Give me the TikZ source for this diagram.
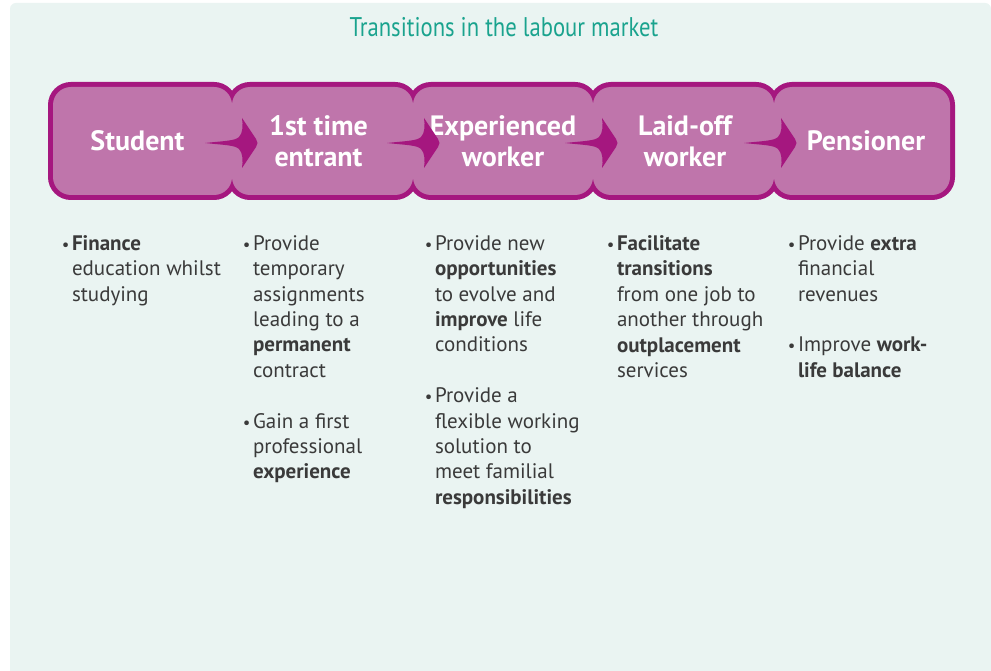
\documentclass[tikz,border=0pt]{standalone}
\usepackage{fontspec}
\setmainfont{PT Sans}
\newfontfamily\titlefont[FakeStretch=0.84]{PT Sans}
\usetikzlibrary{calc}
\definecolor{panelc}{HTML}{EAF4F2}
\definecolor{titlec}{HTML}{1AA38E}
\definecolor{boxc}{HTML}{BF75AB}
\definecolor{edgec}{HTML}{A5177F}
\definecolor{textc}{HTML}{3A3A3A}
\pgfdeclarelayer{back}
\pgfdeclarelayer{edge}
\pgfsetlayers{back,edge,main}
\newcommand{\bul}{\llap{\scalebox{0.8}{\textbullet}\hspace{2.5pt}}}
\tikzset{
  stagebox/.style={fill=boxc, rounded corners=18pt, inner sep=0pt, outer sep=0pt,
    minimum height=108pt},
  stagelabel/.style={text=white, font=\fontsize{28}{31}\selectfont\bfseries,
    align=center, inner sep=0pt},
  stageedge/.style={draw=edgec, line width=10pt, rounded corners=18pt},
  col/.style={anchor=north west, inner sep=0pt, outer sep=0pt, text=textc,
    font=\fontsize{21}{25.4}\selectfont, align=left},
  flow/.pic={
    \fill[edgec] (-53,0) .. controls (-35,-2) and (-23,-2) .. (-19,-6)
      .. controls (-15,-10) and (-15,-18) .. (-16,-25)
      -- (-2,-4) .. controls (0,-1.5) and (0,1.5) .. (-2,4)
      -- (-16,25) .. controls (-15,18) and (-15,10) .. (-19,6)
      .. controls (-23,2) and (-35,2) .. (-53,0) -- cycle;
  }
}
\begin{document}
\begin{tikzpicture}[x=1pt,y=-1pt]
\useasboundingbox (0,0) rectangle (991,671);
\begin{pgfonlayer}{back}
  \fill[white] (0,0) rectangle (991,671);
  \fill[panelc] (10,671) {[rounded corners=6pt] -- (10,3) -- (991,3)} -- (991,671) -- cycle;
\end{pgfonlayer}

\node[text=titlec, font=\titlefont\fontsize{27}{30}\selectfont] (title) at (504,27) {Transitions in the labour market};

\node[stagebox, minimum width=179pt] (b1) at (142.5,141) {};
\node[stagebox, minimum width=181pt] (b2) at (322.5,141) {};
\node[stagebox, minimum width=180pt] (b3) at (503,141) {};
\node[stagebox, minimum width=181pt] (b4) at (683.5,141) {};
\node[stagebox, minimum width=176pt] (b5) at (862,141) {};

\node[stagelabel] (l1) at ($(b1.center)+(-5,0)$) {Student};
\node[stagelabel] (l2) at ($(b2.center)+(-4,0.5)$) {1st time\\entrant};
\node[stagelabel] (l3) at ($(b3.center)+(0,0.5)$) {Experienced\\worker};
\node[stagelabel] (l4) at ($(b4.center)+(1.5,0.5)$) {Laid-off\\worker};
\node[stagelabel] (l5) at ($(b5.center)+(4,0)$) {Pensioner};

\begin{pgfonlayer}{edge}
  \foreach \b in {b1,b2,b3,b4,b5}
    \draw[stageedge] (\b.north west) rectangle (\b.south east);
\end{pgfonlayer}

\pic at ($(b1.east)+(26,2)$) {flow};
\pic at ($(b2.east)+(27,2)$) {flow};
\pic at ($(b3.east)+(25,2)$) {flow};
\pic at ($(b4.east)+(23,2)$) {flow};

\node[col] (c1) at (72,235.5) {\bul\textbf{Finance}\\education whilst\\studying};
\node[col] (c2) at (253,235.5) {\bul Provide\\temporary\\assignments\\leading to a\\\textbf{permanent}\\contract\\[25.4pt]\bul Gain a first\\professional\\\textbf{experience}};
\node[col] (c3) at (435,235.5) {\bul Provide new\\\textbf{opportunities}\\to evolve and\\\textbf{improve} life\\conditions\\[25.4pt]\bul Provide a\\flexible working\\solution to\\meet familial\\\textbf{responsibilities}};
\node[col] (c4) at (617,235.5) {\bul\textbf{Facilitate}\\\textbf{transitions}\\from one job to\\another through\\\textbf{outplacement}\\services};
\node[col] (c5) at (798,235.5) {\bul Provide \textbf{extra}\\financial\\revenues\\[25.4pt]\bul Improve \textbf{work-}\\\textbf{life balance}};
\end{tikzpicture}
\end{document}
